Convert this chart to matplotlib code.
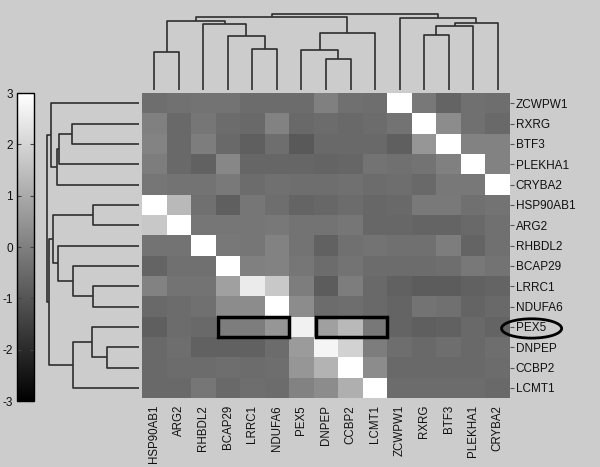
import numpy as np
import matplotlib
matplotlib.use("Agg")
import matplotlib.pyplot as plt
from matplotlib.patches import Rectangle, Ellipse

plt.rcParams['font.family'] = ['Liberation Sans', 'DejaVu Sans']
plt.rcParams['axes.unicode_minus'] = False

# row / column order as displayed
row_labels = ["ZCWPW1", "RXRG", "BTF3", "PLEKHA1", "CRYBA2", "HSP90AB1", "ARG2",
              "RHBDL2", "BCAP29", "LRRC1", "NDUFA6", "PEX5", "DNPEP", "CCBP2", "LCMT1"]
col_labels = ["HSP90AB1", "ARG2", "RHBDL2", "BCAP29", "LRRC1", "NDUFA6", "PEX5",
              "DNPEP", "CCBP2", "LCMT1", "ZCWPW1", "RXRG", "BTF3", "PLEKHA1", "CRYBA2"]

# values (grey scale -3 .. 3)
values = np.array([
    [-0.41, -0.34, -0.29, -0.29, -0.46, -0.46, -0.46, 0.01, -0.36, -0.41, 3.00, -0.18, -0.65, -0.36, -0.41],
    [0.01, -0.53, -0.22, -0.46, -0.53, 0.06, -0.53, -0.46, -0.53, -0.46, -0.29, 3.00, 0.29, -0.36, -0.53],
    [0.11, -0.53, -0.06, -0.53, -0.76, -0.41, -0.88, -0.53, -0.53, -0.53, -0.76, 0.53, 3.00, 0.06, 0.06],
    [-0.06, -0.53, -0.69, 0.18, -0.60, -0.60, -0.60, -0.65, -0.60, -0.29, -0.36, -0.29, 0.01, 3.00, 0.06],
    [-0.22, -0.29, -0.29, -0.13, -0.46, -0.36, -0.41, -0.41, -0.36, -0.46, -0.41, -0.53, -0.18, -0.18, 3.00],
    [3.00, 1.35, -0.36, -0.76, -0.22, -0.41, -0.65, -0.58, -0.46, -0.58, -0.53, -0.13, -0.13, -0.36, -0.29],
    [1.71, 3.00, -0.22, -0.22, -0.22, -0.18, -0.29, -0.29, -0.22, -0.58, -0.58, -0.65, -0.65, -0.53, -0.36],
    [-0.29, -0.29, 3.00, -0.18, -0.22, 0.06, -0.29, -0.69, -0.36, -0.29, -0.36, -0.36, -0.06, -0.65, -0.36],
    [-0.65, -0.36, -0.36, 3.00, 0.01, 0.06, -0.22, -0.46, -0.29, -0.46, -0.46, -0.46, -0.41, -0.18, -0.29],
    [0.06, -0.29, -0.29, 0.76, 2.53, 1.71, -0.06, -0.84, -0.06, -0.53, -0.69, -0.84, -0.84, -0.69, -0.65],
    [-0.53, -0.46, -0.36, 0.29, 0.29, 3.00, 0.29, -0.46, -0.41, -0.53, -0.65, -0.29, -0.36, -0.65, -0.53],
    [-0.76, -0.46, -0.53, -0.06, -0.06, 0.53, 2.65, 0.76, 1.35, -0.18, -0.65, -0.76, -0.69, -0.53, -0.65],
    [-0.53, -0.41, -0.69, -0.69, -0.69, -0.46, 0.65, 2.76, 1.94, -0.06, -0.41, -0.53, -0.41, -0.53, -0.41],
    [-0.53, -0.46, -0.46, -0.41, -0.46, -0.41, 0.53, 1.24, 3.00, 0.29, -0.53, -0.53, -0.53, -0.53, -0.46],
    [-0.53, -0.53, -0.22, -0.53, -0.41, -0.46, 0.06, 0.29, 1.12, 3.00, -0.46, -0.46, -0.46, -0.46, -0.53],
])

# dendrogram merges: (child a, child b, height); leaves 0..14, new nodes 15..
row_links = [(1, 2, 66.7), (15, 3, 79.7), (16, 4, 82.3), (0, 17, 88.3),
             (5, 6, 45.7), (9, 10, 45.7), (8, 20, 66.3), (7, 21, 80.7), (19, 22, 85.7),
             (12, 13, 32.3), (11, 24, 46.7), (25, 14, 66.3),
             (23, 26, 89.7), (18, 27, 92.3)]
col_links = [(0, 1, 38.3), (4, 5, 41.0), (3, 16, 54.0), (2, 17, 66.3), (15, 18, 69.3),
             (7, 8, 31.3), (6, 20, 40.3), (21, 9, 56.7), (19, 22, 73.3),
             (11, 12, 54.7), (24, 13, 64.3), (25, 14, 67.3), (10, 26, 72.3),
             (23, 27, 75.7)]

# highlighted cells in the PEX5 row
box_row = "PEX5"
box_groups = [("BCAP29", "NDUFA6"), ("DNPEP", "LCMT1")]

bg = "#cccccc"
line_col = "#2e2e2e"


def draw_dendro(ax, links, n, horizontal):
    pos = {i: i + 0.5 for i in range(n)}
    hgt = {i: 0.0 for i in range(n)}
    for k, (a, b, h) in enumerate(links):
        node = n + k
        ps = [pos[a], pos[a], pos[b], pos[b]]
        hs = [hgt[a], h, h, hgt[b]]
        if horizontal:
            ax.plot(hs, ps, color=line_col, lw=1.2, solid_capstyle='butt')
        else:
            ax.plot(ps, hs, color=line_col, lw=1.2, solid_capstyle='butt')
        pos[node] = (pos[a] + pos[b]) / 2
        hgt[node] = h


W, H = 600, 467
fig = plt.figure(figsize=(6.0, 4.67), dpi=100, facecolor=bg)


def px_axes(x0, y0, x1, y1):
    return fig.add_axes([x0 / W, 1 - y1 / H, (x1 - x0) / W, (y1 - y0) / H])


n = len(row_labels)

# heatmap
ax = px_axes(142, 93, 510, 398)
im = ax.imshow(values, cmap='gray', vmin=-3, vmax=3, aspect='auto',
               interpolation='nearest', extent=(0, n, n, 0))
ax.set_facecolor(bg)
for s in ax.spines.values():
    s.set_visible(False)
ax.set_xticks(np.arange(n) + 0.5)
ax.set_xticklabels(col_labels, rotation=90, fontsize=8.3, color='#111111')
ax.set_yticks(np.arange(n) + 0.5)
ax.set_yticklabels(row_labels, fontsize=8.5, color='#111111')
ax.yaxis.tick_right()
ax.tick_params(axis='x', length=0, pad=5)
ax.tick_params(axis='y', length=3, pad=1, color='#555555')

r = row_labels.index(box_row)
for c0, c1 in box_groups:
    i0 = col_labels.index(c0)
    i1 = col_labels.index(c1)
    ax.add_patch(Rectangle((i0 + 0.08, r), i1 - i0 + 0.92, 1, fill=False,
                           lw=2.5, ec='black', clip_on=False, zorder=5))
ax.add_patch(Ellipse((n + 0.88, r + 0.58), 2.45, 0.95, fill=False, lw=2,
                     ec='black', clip_on=False, zorder=5))

# row dendrogram (left)
axr = px_axes(40, 93, 142, 398)
draw_dendro(axr, row_links, n, horizontal=True)
axr.set_xlim(99, -3)
axr.set_ylim(n, 0)
axr.axis('off')

# column dendrogram (top)
axc = px_axes(142, 0, 510, 93)
draw_dendro(axc, col_links, n, horizontal=False)
axc.set_xlim(0, n)
axc.set_ylim(-3, 90)
axc.axis('off')

# colour bar
cax = px_axes(17, 93, 34, 401)
cb = fig.colorbar(im, cax=cax)
cb.set_ticks([-3, -2, -1, 0, 1, 2, 3])
cb.outline.set_linewidth(1)
cb.outline.set_edgecolor('black')
cax.yaxis.set_ticks_position('both')
cax.tick_params(axis='y', direction='in', length=3, color='#444444',
                labelleft=True, labelright=False, labelsize=8.5, pad=3,
                labelcolor='#111111')

fig.savefig('out.png', dpi=100, facecolor=bg)
